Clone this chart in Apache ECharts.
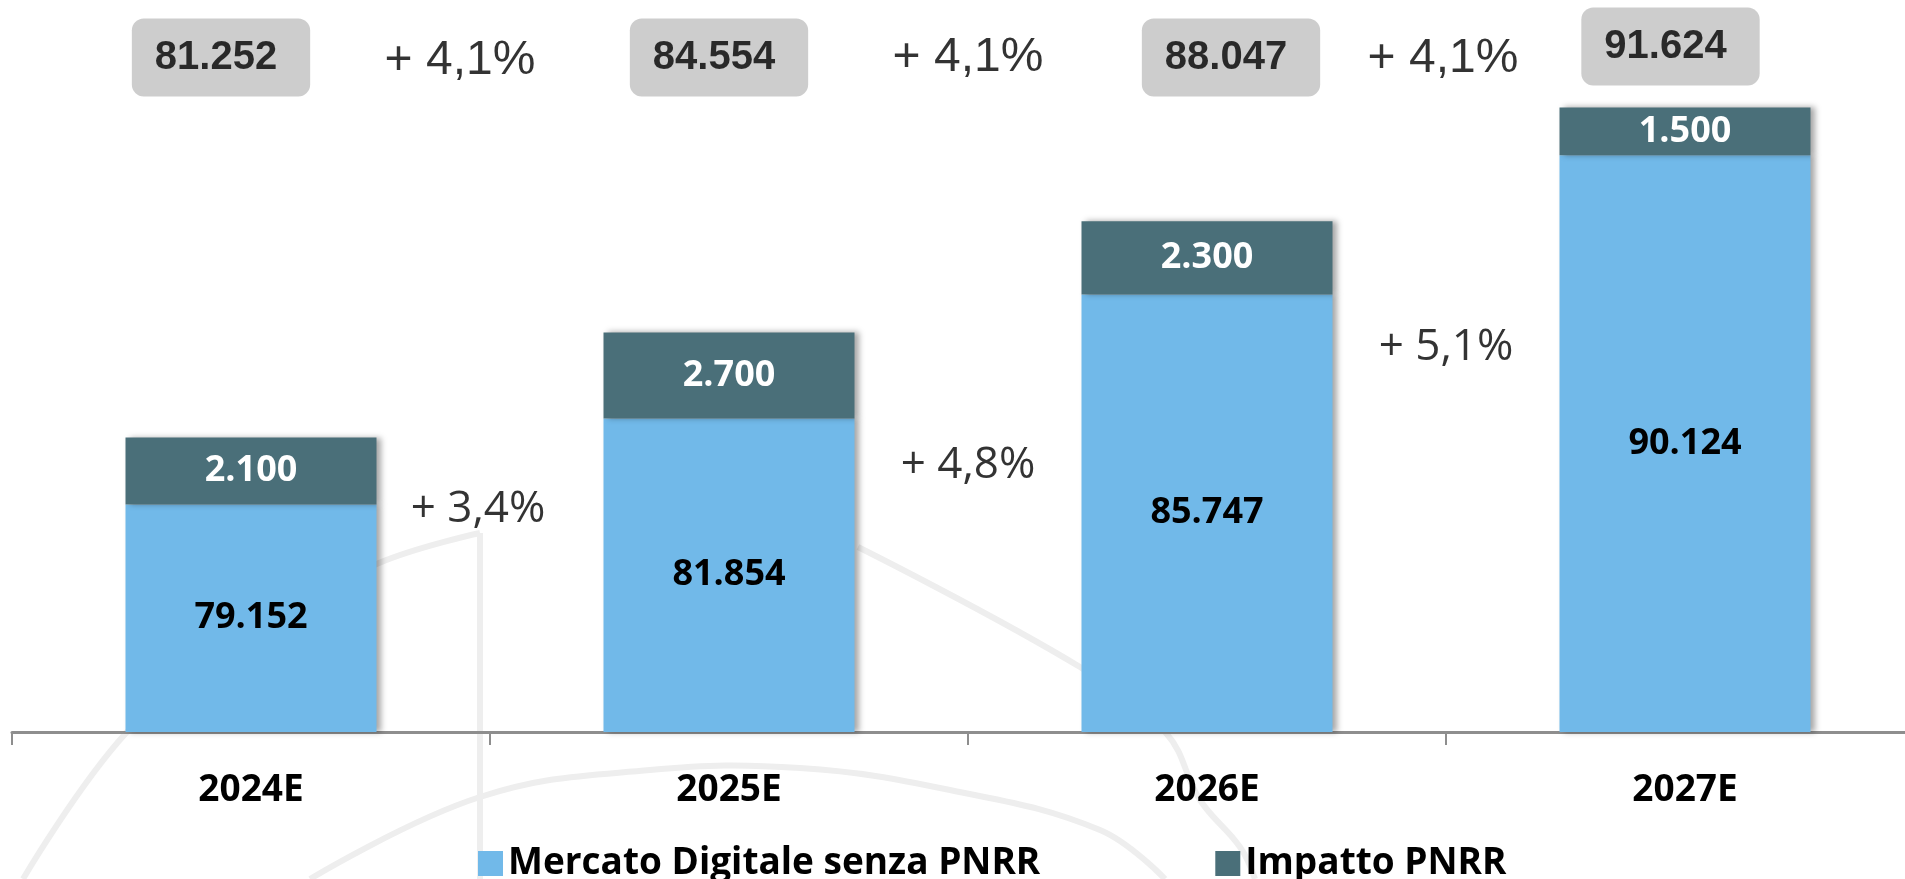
<!DOCTYPE html>
<html>
<head>
<meta charset="utf-8">
<script src="https://cdn.jsdelivr.net/npm/echarts@6/dist/echarts.min.js"></script>
<style>
  html, body { margin: 0; padding: 0; background: #ffffff; }
  #chart { width: 1905px; height: 879px; }
</style>
</head>
<body>
<div id="chart"></div>
<script>
// ---------- DATA ----------
const categories = ['2024E', '2025E', '2026E', '2027E'];
const mercatoSenzaPNRR = [79152, 81854, 85747, 90124];
const impattoPNRR = [2100, 2700, 2300, 1500];
const growthTotal = ['+ 4,1%', '+ 4,1%', '+ 4,1%'];       // between total boxes
const growthBase = ['+ 3,4%', '+ 4,8%', '+ 5,1%'];        // between bars
const seriesNames = ['Mercato Digitale senza PNRR', 'Impatto PNRR'];

// ---------- LAYOUT / STYLE ----------
const Y_MIN = 72000, Y_MAX = 95000;
const AXIS_PX = 732, GRID_H = 732;
function yAtPixel(py) { return Y_MIN + (AXIS_PX - py) * (Y_MAX - Y_MIN) / GRID_H; }
const fmt = v => v.toLocaleString('de-DE');
const totals = mercatoSenzaPNRR.map((v, i) => v + impattoPNRR[i]);

const totalBoxLayout = [
  { y: 57.5, off: [-30, 0] },
  { y: 57.5, off: [-10, 0] },
  { y: 57.5, off: [24, 0] },
  { y: 46.5, off: [-14.5, 0] }
];
const growthTotalLayout = [
  { x: 0.5, y: 60.5, off: [-30, 0] },
  { x: 1.5, y: 58, off: [0, 0] },
  { x: 2.5, y: 59, off: [-3, 0] }
];
const growthBaseLayout = [
  { x: 0.5, y: 509, off: [-12, 0] },
  { x: 1.5, y: 465, off: [0, 0] },
  { x: 2.5, y: 347, off: [0, 0] }
];

const LIGHT = '#71B9E9', DARK = '#4A6F79';
const WM = { stroke: '#eeeeee', lineWidth: 6, fill: null };

const chart = echarts.init(document.getElementById('chart'), null, { renderer: 'canvas' });

const barShadow = { shadowColor: 'rgba(0,0,0,0.35)', shadowBlur: 6, shadowOffsetX: 4, shadowOffsetY: 0 };

const option = {
  backgroundColor: '#ffffff',
  animation: false,
  graphic: [
    { type: 'polyline', z: -10, silent: true, shape: { smooth: 0.4, points: [[23, 879], [126, 733], [250, 630], [379, 563], [480, 533]] }, style: WM },
    { type: 'line', z: -10, silent: true, shape: { x1: 480, y1: 533, x2: 480, y2: 879 }, style: WM },
    { type: 'polyline', z: -10, silent: true, shape: { smooth: 0.4, points: [[310, 879], [480, 797], [650, 770], [800, 768], [950, 790], [1100, 830], [1165, 879]] }, style: WM },
    { type: 'polyline', z: -10, silent: true, shape: { smooth: 0.4, points: [[858, 547], [1080, 667], [1166, 733], [1200, 800], [1240, 847], [1255, 879]] }, style: WM }
  ],
  grid: { left: 12, right: -19, top: 0, bottom: 147, containLabel: false, outerBoundsMode: 'none' },
  legend: {
    data: seriesNames,
    left: 473, top: 840,
    icon: 'rect', itemWidth: 25, itemHeight: 25, itemGap: 175,
    textStyle: { fontFamily: 'Open Sans', fontWeight: 'bold', fontSize: 37, color: '#000' }
  },
  xAxis: [
    {
      type: 'category', data: categories, gridIndex: 0,
      axisLine: { show: true, lineStyle: { color: '#8E8E8E', width: 3 } },
      axisTick: { show: true, length: 13, lineStyle: { color: '#8E8E8E', width: 2 } },
      axisLabel: { margin: 40, fontFamily: 'Open Sans', fontWeight: 'bold', fontSize: 37, color: '#000' },
      splitLine: { show: false }
    },
    { type: 'value', min: -0.5, max: 3.5, show: false, gridIndex: 0 }
  ],
  yAxis: { type: 'value', min: Y_MIN, max: Y_MAX, show: false, splitLine: { show: false } },
  series: [
    {
      name: seriesNames[0], type: 'bar', stack: 'tot', barWidth: 251, xAxisIndex: 0,
      data: mercatoSenzaPNRR,
      itemStyle: Object.assign({ color: LIGHT }, barShadow),
      label: { show: true, position: 'inside', formatter: p => fmt(p.value),
        fontFamily: 'Open Sans', fontWeight: 'bold', fontSize: 36, color: '#000' }
    },
    {
      name: seriesNames[1], type: 'bar', stack: 'tot', barWidth: 251, xAxisIndex: 0,
      data: impattoPNRR,
      itemStyle: Object.assign({ color: DARK }, barShadow),
      label: { show: true, position: 'inside', formatter: p => fmt(p.value),
        fontFamily: 'Open Sans', fontWeight: 'bold', fontSize: 36, color: '#fff' }
    },
    {
      name: 'totali', type: 'scatter', xAxisIndex: 1, symbolSize: 0, clip: false, silent: true,
      data: totals.map((t, i) => ({ value: [i, yAtPixel(totalBoxLayout[i].y)], name: fmt(t),
        label: { offset: totalBoxLayout[i].off } })),
      label: { show: true, position: 'inside', formatter: p => p.name,
        fontFamily: 'Liberation Sans', fontWeight: 'bold', fontSize: 40, color: '#000',
        backgroundColor: '#C0C0C0', borderRadius: 12, padding: [19, 33, 19, 23], lineHeight: 40 }
    },
    {
      name: 'crescitaTot', type: 'scatter', xAxisIndex: 1, symbolSize: 0, clip: false, silent: true,
      data: growthTotal.map((g, i) => ({ value: [growthTotalLayout[i].x, yAtPixel(growthTotalLayout[i].y)], name: g,
        label: { offset: growthTotalLayout[i].off } })),
      label: { show: true, position: 'inside', formatter: p => p.name,
        fontFamily: 'Liberation Sans', fontSize: 48, color: '#000' }
    },
    {
      name: 'crescitaBase', type: 'scatter', xAxisIndex: 1, symbolSize: 0, clip: false, silent: true,
      data: growthBase.map((g, i) => ({ value: [growthBaseLayout[i].x, yAtPixel(growthBaseLayout[i].y)], name: g,
        label: { offset: growthBaseLayout[i].off } })),
      label: { show: true, position: 'inside', formatter: p => p.name,
        fontFamily: 'Open Sans', fontSize: 44, color: '#000' }
    }
  ]
};
chart.setOption(option);
</script>
</body>
</html>
